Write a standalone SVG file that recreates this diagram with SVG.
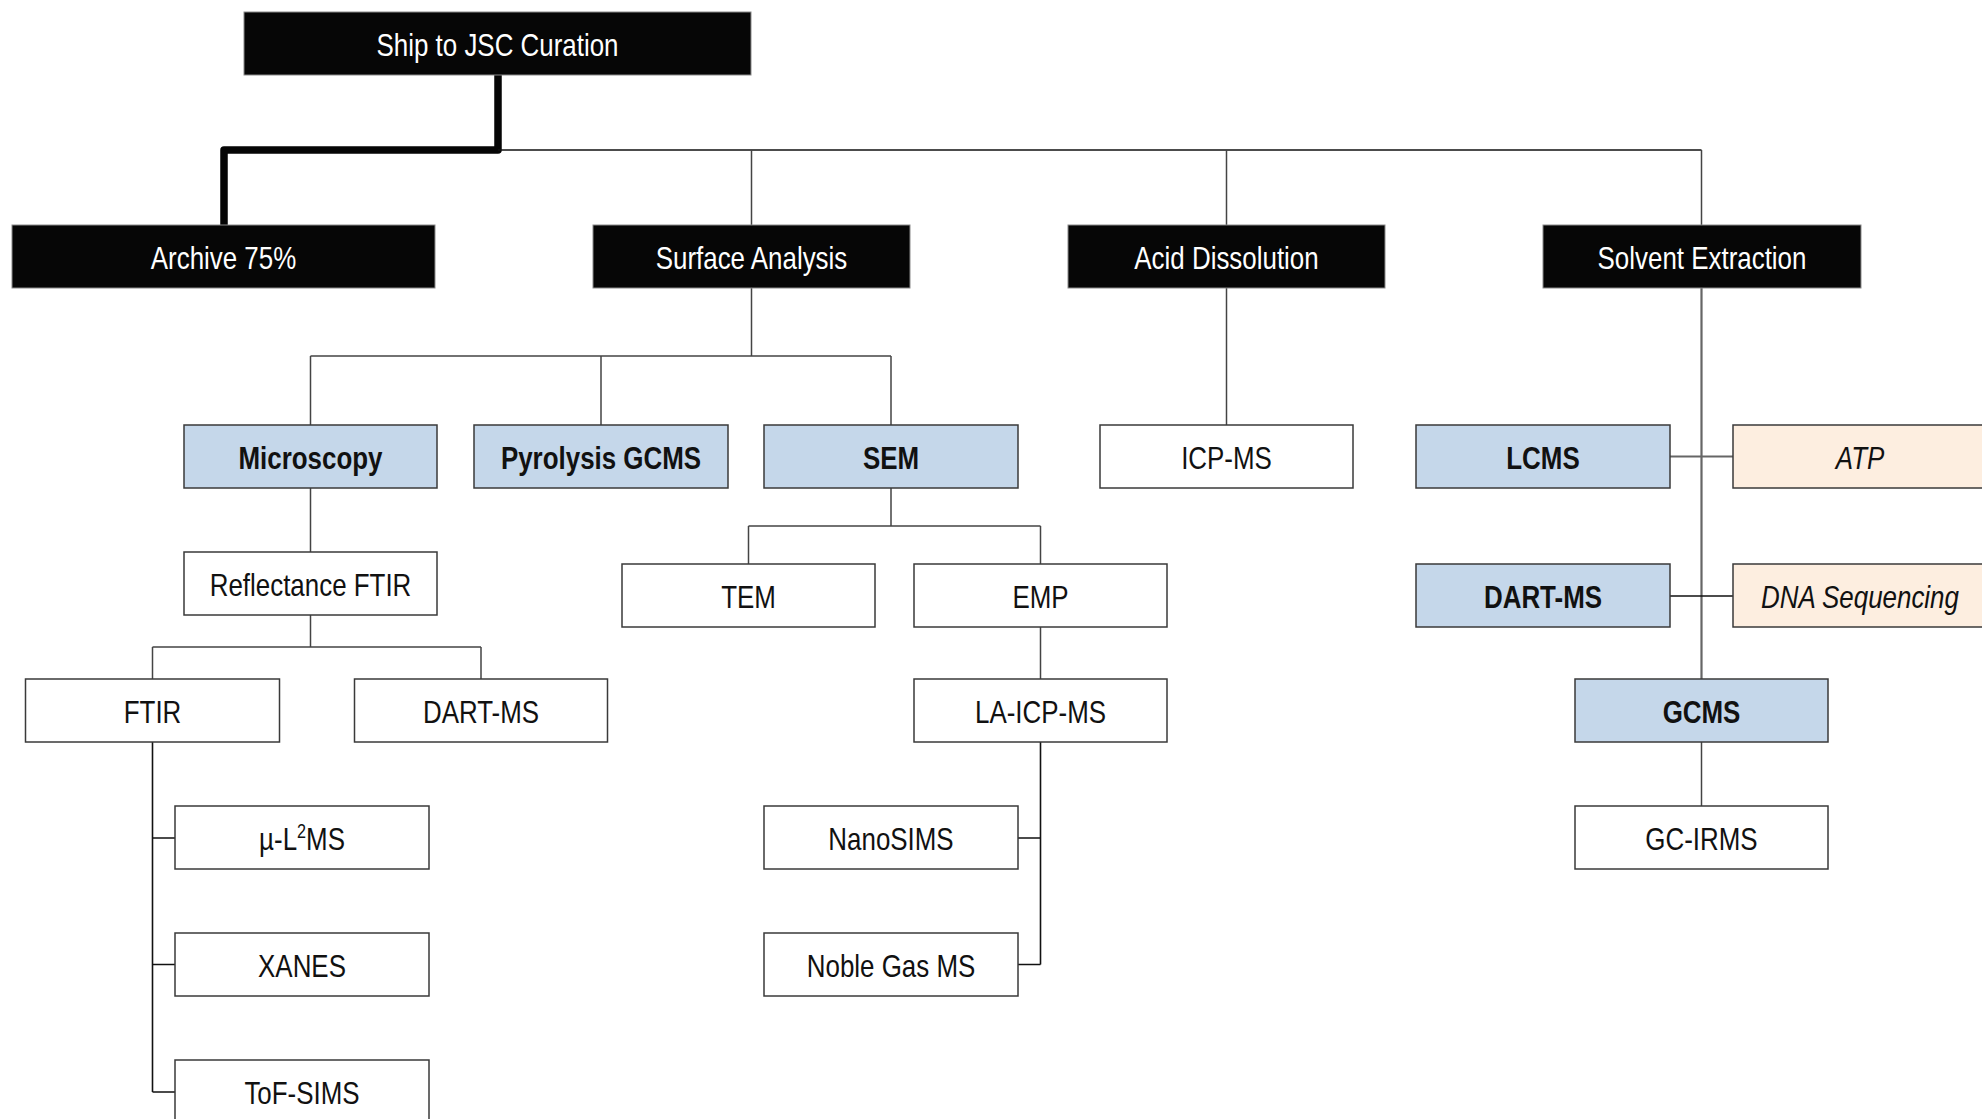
<svg xmlns="http://www.w3.org/2000/svg" width="1982" height="1119" viewBox="0 0 1982 1119">
<style>
text{font-family:"Liberation Sans",Arial,sans-serif;font-size:32px;text-anchor:middle;fill:#111}
.blk rect{fill:#060606;stroke:#8a8a8a;stroke-width:1}
.blk text{fill:#fff}
.wht rect{fill:#fff;stroke:#3a3a3a;stroke-width:1.5}
.blu rect{fill:#c5d7ea;stroke:#3a3a3a;stroke-width:1.5}
.blu text{font-weight:bold}
.pch rect{fill:#fdeee0;stroke:#3a3a3a;stroke-width:1.5}
.pch text{font-style:italic}
.c path{fill:none;stroke:#444;stroke-width:1.5}
.c .thick{stroke:#050505;stroke-width:7.5;stroke-linejoin:round}
.c .k{stroke:#111;stroke-width:1.6}
.c .g{stroke:#666;stroke-width:2.2}
</style>
<rect x="0" y="0" width="1982" height="1119" fill="#fff"/>
<g id="connectors" class="c">
<path class="thick" d="M498,75 V150 H224 V225"/>
<path class="k" d="M498,150 H1701.5"/>
<path d="M1701.5,150 V225 M751.5,150 V225 M1226.5,150 V225"/>
<path d="M751.5,288 V356 M310.5,356 H891 M310.5,356 V425 M601,356 V425 M891,356 V425"/>
<path d="M310.5,488 V552 M310.5,615 V647 M152.5,647 H481 M152.5,647 V679 M481,647 V679"/>
<path class="k" d="M152.5,742 V1092 M152.5,838 H175 M152.5,964.5 H175 M152.5,1092 H175"/>
<path d="M891,488 V526 M748.5,526 H1040.5 M748.5,526 V564 M1040.5,526 V564 M1040.5,627 V679"/>
<path class="k" d="M1040.5,742 V964.5 M1018,838 H1040.5 M1018,964.5 H1040.5"/>
<path d="M1226.5,288 V425"/>
<path class="g" d="M1701.5,288 V679 M1670,456.5 H1733"/>
<path class="k" d="M1670,596 H1733"/>
<path d="M1701.5,742 V806"/>
</g>
<g id="ship" class="blk"><rect x="244" y="12" width="507" height="63"/><text transform="translate(497.5,56) scale(0.81,1)">Ship to JSC Curation</text></g>
<g id="archive" class="blk"><rect x="12" y="225" width="423" height="63"/><text transform="translate(223.5,269) scale(0.81,1)">Archive 75%</text></g>
<g id="surface" class="blk"><rect x="593" y="225" width="317" height="63"/><text transform="translate(751.5,269) scale(0.81,1)">Surface Analysis</text></g>
<g id="acid" class="blk"><rect x="1068" y="225" width="317" height="63"/><text transform="translate(1226.5,269) scale(0.81,1)">Acid Dissolution</text></g>
<g id="solvent" class="blk"><rect x="1543" y="225" width="318" height="63"/><text transform="translate(1702,269) scale(0.81,1)">Solvent Extraction</text></g>
<g id="microscopy" class="blu"><rect x="184" y="425" width="253" height="63"/><text transform="translate(310.5,469) scale(0.81,1)">Microscopy</text></g>
<g id="pyrolysis" class="blu"><rect x="474" y="425" width="254" height="63"/><text transform="translate(601,469) scale(0.81,1)">Pyrolysis GCMS</text></g>
<g id="sem" class="blu"><rect x="764" y="425" width="254" height="63"/><text transform="translate(891,469) scale(0.81,1)">SEM</text></g>
<g id="icpms" class="wht"><rect x="1100" y="425" width="253" height="63"/><text transform="translate(1226.5,469) scale(0.81,1)">ICP-MS</text></g>
<g id="lcms" class="blu"><rect x="1416" y="425" width="254" height="63"/><text transform="translate(1543,469) scale(0.81,1)">LCMS</text></g>
<g id="atp" class="pch"><rect x="1733" y="425" width="254" height="63"/><text transform="translate(1860,469) scale(0.81,1)">ATP</text></g>
<g id="reflectance" class="wht"><rect x="184" y="552" width="253" height="63"/><text transform="translate(310.5,596) scale(0.81,1)">Reflectance FTIR</text></g>
<g id="tem" class="wht"><rect x="622" y="564" width="253" height="63"/><text transform="translate(748.5,608) scale(0.81,1)">TEM</text></g>
<g id="emp" class="wht"><rect x="914" y="564" width="253" height="63"/><text transform="translate(1040.5,608) scale(0.81,1)">EMP</text></g>
<g id="dartms2" class="blu"><rect x="1416" y="564" width="254" height="63"/><text transform="translate(1543,608) scale(0.81,1)">DART-MS</text></g>
<g id="dna" class="pch"><rect x="1733" y="564" width="254" height="63"/><text transform="translate(1860,608) scale(0.81,1)">DNA Sequencing</text></g>
<g id="ftir" class="wht"><rect x="25.5" y="679" width="254" height="63"/><text transform="translate(152.5,723) scale(0.81,1)">FTIR</text></g>
<g id="dartms1" class="wht"><rect x="354.5" y="679" width="253" height="63"/><text transform="translate(481,723) scale(0.81,1)">DART-MS</text></g>
<g id="laicpms" class="wht"><rect x="914" y="679" width="253" height="63"/><text transform="translate(1040.5,723) scale(0.81,1)">LA-ICP-MS</text></g>
<g id="gcms" class="blu"><rect x="1575" y="679" width="253" height="63"/><text transform="translate(1701.5,723) scale(0.81,1)">GCMS</text></g>
<g id="ul2ms" class="wht"><rect x="175" y="806" width="254" height="63"/><text transform="translate(302,850) scale(0.81,1)">µ-L<tspan font-size="20" dy="-12">2</tspan><tspan dy="12">MS</tspan></text></g>
<g id="nanosims" class="wht"><rect x="764" y="806" width="254" height="63"/><text transform="translate(891,850) scale(0.81,1)">NanoSIMS</text></g>
<g id="gcirms" class="wht"><rect x="1575" y="806" width="253" height="63"/><text transform="translate(1701.5,850) scale(0.81,1)">GC-IRMS</text></g>
<g id="xanes" class="wht"><rect x="175" y="933" width="254" height="63"/><text transform="translate(302,977) scale(0.81,1)">XANES</text></g>
<g id="noblegas" class="wht"><rect x="764" y="933" width="254" height="63"/><text transform="translate(891,977) scale(0.81,1)">Noble Gas MS</text></g>
<g id="tofsims" class="wht"><rect x="175" y="1060" width="254" height="63"/><text transform="translate(302,1104) scale(0.81,1)">ToF-SIMS</text></g>
</svg>
